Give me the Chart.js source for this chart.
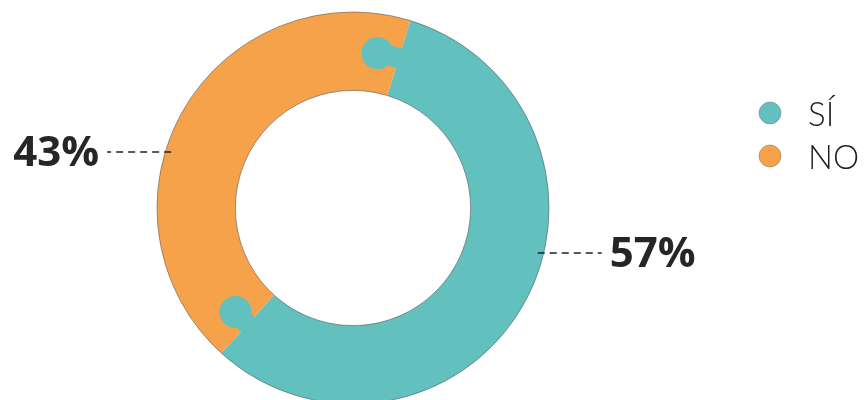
<!DOCTYPE html>
<html>
<head>
<meta charset="utf-8">
<script src="https://cdn.jsdelivr.net/npm/chart.js@4.4.1/dist/chart.umd.min.js"></script>
<style>
    html, body { margin: 0; padding: 0; background: #fff; overflow: hidden; }
    #wrap { position: absolute; left: 0; top: 0; width: 866px; height: 420px; }
</style>
</head>
<body>
<div id="wrap"><canvas id="answerChart"></canvas></div>
<script>
const labels = ['SÍ', 'NO'];
const values = [57, 43];
const valueLabels = ['57%', '43%'];
const colors = ['#62c1be', '#f5a24b'];

document.addEventListener('DOMContentLoaded', () => {

    // puzzle knobs where the teal slice meets the orange one
    const puzzlePlugin = {
        id: 'puzzle',
        afterDatasetsDraw(chart) {
            const arc = chart.getDatasetMeta(0).data[0];
            const { x, y, startAngle, endAngle, innerRadius, outerRadius } =
                arc.getProps(['x', 'y', 'startAngle', 'endAngle', 'innerRadius', 'outerRadius'], true);
            const mid = (innerRadius + outerRadius) / 2;
            const ctx = chart.ctx;
            ctx.save();
            ctx.fillStyle = colors[0];
            [[startAngle, -1, 0.14], [endAngle, 1, 0.11]].forEach(([a, dir, d]) => {
                const ka = a + dir * d;
                ctx.beginPath();
                ctx.arc(x + Math.cos(ka) * mid, y + Math.sin(ka) * mid, 16, 0, Math.PI * 2);
                ctx.fill();
                ctx.beginPath();
                ctx.arc(x, y, mid + 10, a - dir * 0.03, ka, dir < 0);
                ctx.arc(x, y, mid - 10, ka, a - dir * 0.03, dir > 0);
                ctx.closePath();
                ctx.fill();
            });
            // thin grey rim
            ctx.strokeStyle = 'rgba(80,80,80,0.55)';
            ctx.lineWidth = 1;
            ctx.beginPath(); ctx.arc(x, y, outerRadius, 0, Math.PI * 2); ctx.stroke();
            ctx.beginPath(); ctx.arc(x, y, innerRadius, 0, Math.PI * 2); ctx.stroke();
            ctx.restore();
        }
    };

    // percentage labels with dashed leader lines
    const labelShift = [0.285, 0.227];
    const valueLabelPlugin = {
        id: 'valueLabels',
        afterDraw(chart) {
            const ctx = chart.ctx;
            ctx.save();
            chart.getDatasetMeta(0).data.forEach((arc, i) => {
                const { x, y, startAngle, endAngle, outerRadius } =
                    arc.getProps(['x', 'y', 'startAngle', 'endAngle', 'outerRadius'], true);
                const a = (startAngle + endAngle) / 2 - labelShift[i];
                const ex = x + Math.cos(a) * outerRadius;
                const ey = Math.round(y + Math.sin(a) * outerRadius);
                const dir = Math.cos(a) >= 0 ? 1 : -1;
                const x0 = ex - dir * 6;
                const x1 = ex + dir * 58;
                ctx.strokeStyle = '#222';
                ctx.lineWidth = 1.4;
                ctx.setLineDash([7, 5]);
                ctx.beginPath();
                ctx.moveTo(x0, ey);
                ctx.lineTo(x1, ey);
                ctx.stroke();
                ctx.setLineDash([]);
                ctx.fillStyle = '#262626';
                ctx.font = 'bold 42px "Open Sans", sans-serif';
                ctx.textAlign = dir > 0 ? 'left' : 'right';
                ctx.textBaseline = 'alphabetic';
                ctx.fillText(valueLabels[i], x1 + dir * 8, ey + 14);
            });
            ctx.restore();
        }
    };

    // legend on the right
    const legendPlugin = {
        id: 'sideLegend',
        afterDraw(chart) {
            const ctx = chart.ctx;
            ctx.save();
            labels.forEach((label, i) => {
                const cy = 113 + i * 43;
                ctx.beginPath();
                ctx.arc(770, cy, 11, 0, Math.PI * 2);
                ctx.fillStyle = colors[i];
                ctx.fill();
                ctx.strokeStyle = 'rgba(120,120,120,0.5)';
                ctx.lineWidth = 1;
                ctx.stroke();
                ctx.fillStyle = '#1e1e1e';
                ctx.font = '300 33px Lato, sans-serif';
                ctx.textAlign = 'left';
                ctx.textBaseline = 'alphabetic';
                ctx.fillText(label, 808, cy + 13);
            });
            ctx.restore();
        }
    };

    const ctxEl = document.getElementById('answerChart');
    new Chart(ctxEl, {
        type: 'doughnut',
        data: {
            labels: labels,
            datasets: [{
                data: values,
                backgroundColor: colors,
                borderWidth: 0
            }]
        },
        options: {
            responsive: true,
            maintainAspectRatio: false,
            animation: false,
            cutout: '60%',
            rotation: 17,
            layout: { padding: { left: 157, right: 317, top: 12, bottom: 16 } },
            plugins: {
                legend: { display: false },
                tooltip: { enabled: false }
            }
        },
        plugins: [puzzlePlugin, valueLabelPlugin, legendPlugin]
    });
});
</script>
</body>
</html>
